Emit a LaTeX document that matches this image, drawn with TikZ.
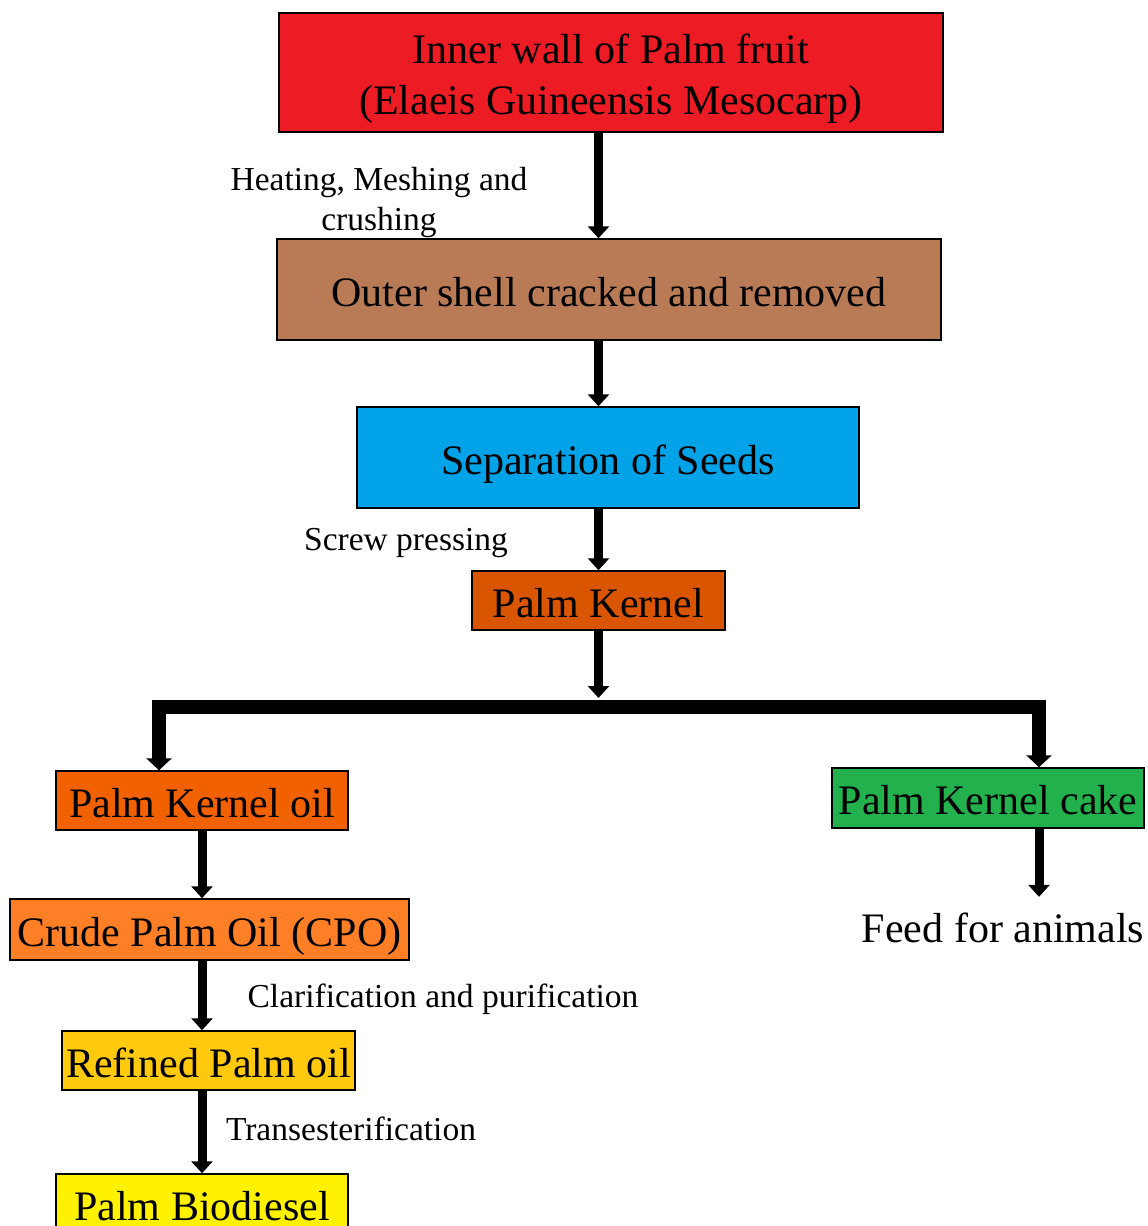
\documentclass[tikz,border=0pt]{standalone}
\usepackage{fontspec}
\setmainfont{Liberation Serif}
\usetikzlibrary{arrows.meta}
\definecolor{fruitred}{HTML}{ED1C24}
\definecolor{shellbrown}{HTML}{B97B56}
\definecolor{seedblue}{HTML}{00A2E8}
\definecolor{kerneldark}{HTML}{D95500}
\definecolor{kerneloil}{HTML}{F26100}
\definecolor{cakegreen}{HTML}{22B14C}
\definecolor{cpoorange}{HTML}{FF7F27}
\definecolor{refinedgold}{HTML}{FFC90E}
\definecolor{dieselyellow}{HTML}{FFF200}
\begin{document}
\begin{tikzpicture}[x=1pt, y=-1pt,
    box/.style={draw, line width=1.5pt, inner sep=0pt, align=center, text height=33pt, text depth=0pt, font=\fontsize{42}{51}\selectfont},
    lbl/.style={align=center, inner sep=0pt, font=\fontsize{33.5}{40}\selectfont},
    arr/.style={line width=9pt, -{Triangle[width=21pt, length=12pt]}},
    fork/.style={line width=14pt, {Triangle[width=25pt, length=12pt]}-{Triangle[width=25pt, length=12pt]}}]
    \useasboundingbox (0,0) rectangle (1148,1226);

    \node[box, fill=fruitred, minimum width=664pt, minimum height=119pt, text height=83pt] (fruit) at (611,72.5) {Inner wall of Palm fruit\\(Elaeis Guineensis Mesocarp)};
    \node[box, fill=shellbrown, minimum width=664pt, minimum height=101pt] (shell) at (609,289.5) {Outer shell cracked and removed};
    \node[box, fill=seedblue, minimum width=502pt, minimum height=101pt] (seeds) at (608,457.5) {Separation of Seeds};
    \node[box, fill=kerneldark, minimum width=253pt, minimum height=59pt] (kernel) at (598.5,600.5) {Palm Kernel};
    \node[box, fill=kerneloil, minimum width=292pt, minimum height=59pt] (kerneloil) at (202,800.5) {Palm Kernel oil};
    \node[box, fill=cakegreen, minimum width=312pt, minimum height=60pt] (cake) at (988,798) {Palm Kernel cake};
    \node[box, fill=cpoorange, minimum width=399pt, minimum height=61pt] (cpo) at (209.5,929.5) {Crude Palm Oil (CPO)};
    \node[box, fill=refinedgold, minimum width=293pt, minimum height=59pt] (refined) at (208.5,1060.5) {Refined Palm oil};
    \node[box, fill=dieselyellow, minimum width=292pt, minimum height=59pt] (diesel) at (202,1203.5) {Palm Biodiesel};
    \node[lbl, font=\fontsize{42}{51}\selectfont] (feed) at (1003,928) {Feed for animals};

    \node[lbl] (heating) at (379,202) {Heating, Meshing and\\crushing};
    \node[lbl] (screw) at (406,543) {Screw pressing};
    \node[lbl] (clarify) at (443,999) {Clarification and purification};
    \node[lbl] (trans) at (351,1129) {Transesterification};

    \coordinate (barL) at (159,707);
    \coordinate (barR) at (1039,707);

    \draw[arr] (fruit.south -| kernel.center) -- (shell.north -| kernel.center);
    \draw[arr] (shell.south -| kernel.center) -- (seeds.north -| kernel.center);
    \draw[arr] (seeds.south -| kernel.center) -- (kernel.north);
    \draw[arr, shorten >=9pt] (kernel.south) -- (kernel.south |- barL);
    \draw[fork] (barL |- kerneloil.north) |- (barR) -- (barR |- cake.north);
    \draw[arr] (kerneloil.south) -- (cpo.north -| kerneloil.south);
    \draw[arr] (cpo.south -| kerneloil.south) -- (refined.north -| kerneloil.south);
    \draw[arr] (refined.south -| diesel.north) -- (diesel.north);
    \draw[arr, shorten >=16pt] (cake.south -| barR) -- (feed.north -| barR);
\end{tikzpicture}
\end{document}
